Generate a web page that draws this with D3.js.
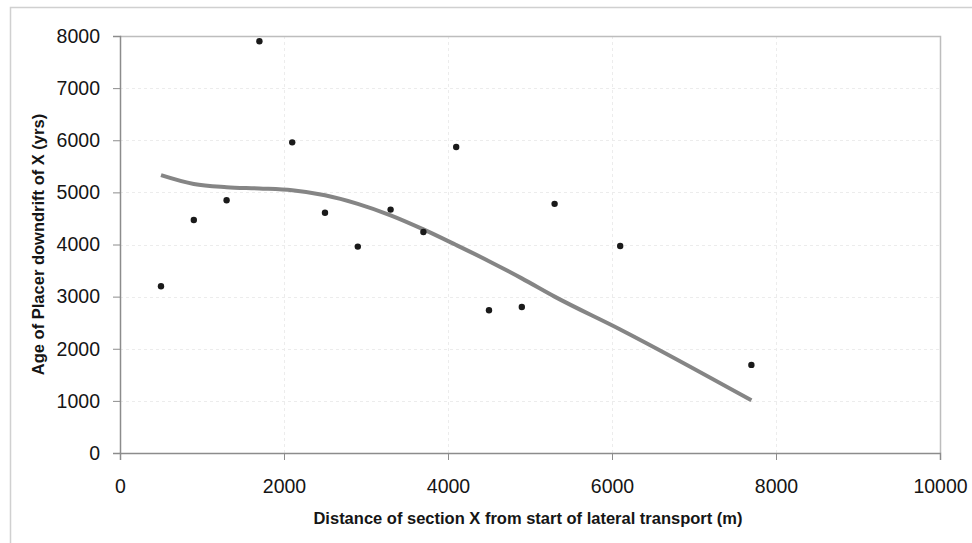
<!DOCTYPE html>
<html>
<head>
<meta charset="UTF-8" />
<title>Age of placer vs distance</title>
<style>
    body { margin: 0; background: #fff; }
    text { font-family: "Liberation Sans", Arial, sans-serif; }
</style>
</head>
<body>
<script src="https://d3js.org/d3.v7.min.js"></script>
<script type="text/javascript">
// observed samples
var distance = [500, 900, 1300, 1700, 2100, 2500, 2900, 3300, 3700, 4100, 4500, 4900, 5300, 6100, 7700];
var age = [3200, 4470, 4850, 7900, 5960, 4610, 3960, 4670, 4240, 5870, 2740, 2800, 4780, 3970, 1690];

// smoothed trend line
var trendX = [500, 900, 1300, 1700, 2100, 2500, 2900, 3300, 3700, 4100, 4500, 4900, 5300, 6100, 7700];
var trendY = [5330, 5160, 5100, 5075, 5040, 4945, 4780, 4560, 4290, 3990, 3680, 3350, 3000, 2370, 1010];

var xTicks = [0, 2000, 4000, 6000, 8000, 10000];
var yTicks = [0, 1000, 2000, 3000, 4000, 5000, 6000, 7000, 8000];

var width = 972, height = 543;
var plotLeft = 120, plotRight = 940, plotTop = 36, plotBottom = 453;

var svg = d3.select("body").append("svg")
    .attr("width", width)
    .attr("height", height);

// outer frame (only left and top edges fall inside the picture)
svg.append("rect")
    .attr("x", 10.5).attr("y", 7.5)
    .attr("width", 990).attr("height", 560)
    .attr("fill", "none")
    .attr("stroke", "#d0d0d0")
    .attr("stroke-width", 1.5);

var x = d3.scaleLinear().domain([0, 10000]).range([plotLeft, plotRight]);
var y = d3.scaleLinear().domain([0, 8000]).range([plotBottom, plotTop]);

// gridlines
svg.append("g").selectAll("line")
    .data(yTicks.slice(1, -1))
    .join("line")
    .attr("x1", plotLeft).attr("x2", plotRight)
    .attr("y1", function(d) { return Math.round(y(d)) + 0.5; })
    .attr("y2", function(d) { return Math.round(y(d)) + 0.5; })
    .attr("stroke", "#ececec")
    .attr("stroke-dasharray", "3,3");

svg.append("g").selectAll("line")
    .data(xTicks.slice(1, -1))
    .join("line")
    .attr("y1", plotTop).attr("y2", plotBottom)
    .attr("x1", function(d) { return Math.round(x(d)) + 0.5; })
    .attr("x2", function(d) { return Math.round(x(d)) + 0.5; })
    .attr("stroke", "#ececec")
    .attr("stroke-dasharray", "3,3");

// plot area top / right border
svg.append("path")
    .attr("d", "M" + plotLeft + "," + (plotTop + 0.5) + "H" + (plotRight + 0.5) + "V" + plotBottom)
    .attr("fill", "none")
    .attr("stroke", "#bdbdbd")
    .attr("stroke-width", 1.5);

// axes
var xAxis = svg.append("g")
    .attr("transform", "translate(0," + plotBottom + ")")
    .call(d3.axisBottom(x).tickValues(xTicks).tickSize(7).tickPadding(19).tickFormat(d3.format("d")));

var yAxis = svg.append("g")
    .attr("transform", "translate(" + plotLeft + ",0)")
    .call(d3.axisLeft(y).tickValues(yTicks).tickSize(7).tickPadding(13).tickFormat(d3.format("d")));

[xAxis, yAxis].forEach(function(a) {
    a.select(".domain").attr("stroke", "#8c8c8c").attr("stroke-width", 1.5);
    a.selectAll(".tick line").attr("stroke", "#8c8c8c");
    a.selectAll(".tick text")
        .attr("fill", "#151515")
        .style("font-size", "19.5px")
        .style("font-family", "'Liberation Sans', Arial, sans-serif");
});

// axis titles
svg.append("text")
    .attr("x", 528)
    .attr("y", 524)
    .attr("text-anchor", "middle")
    .style("font-size", "16.5px")
    .style("font-weight", "bold")
    .attr("fill", "#151515")
    .text("Distance of section X from start of lateral transport (m)");

svg.append("text")
    .attr("transform", "translate(38," + (plotTop + plotBottom) / 2 + ") rotate(-90)")
    .attr("dy", "0.36em")
    .attr("text-anchor", "middle")
    .style("font-size", "16.5px")
    .style("font-weight", "bold")
    .attr("fill", "#151515")
    .text("Age of Placer downdrift of X (yrs)");

// trend line
var line = d3.line()
    .x(function(d, i) { return x(trendX[i]); })
    .y(function(d) { return y(d); })
    .curve(d3.curveMonotoneX);

svg.append("path")
    .datum(trendY)
    .attr("d", line)
    .attr("fill", "none")
    .attr("stroke", "#858585")
    .attr("stroke-width", 4);

// points
svg.append("g").selectAll("circle")
    .data(distance)
    .join("circle")
    .attr("cx", function(d) { return x(d); })
    .attr("cy", function(d, i) { return y(age[i]); })
    .attr("r", 3.2)
    .attr("fill", "#1a1a1a");
</script>
</body>
</html>
